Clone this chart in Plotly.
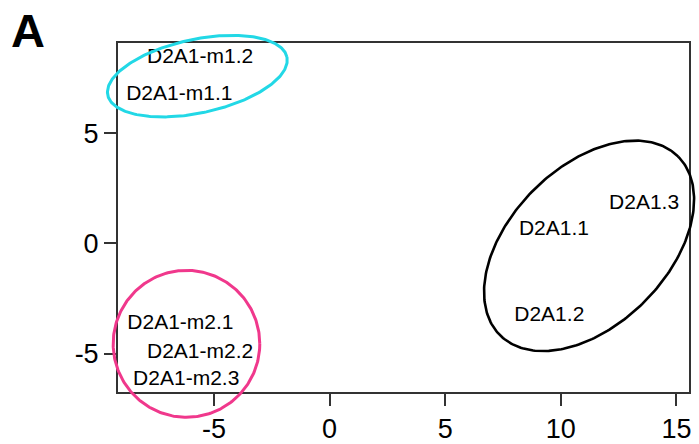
import numpy as np
import plotly.graph_objects as go

# ---- data ----
labels = ["D2A1-m1.1", "D2A1-m1.2", "D2A1-m2.1", "D2A1-m2.2", "D2A1-m2.3",
          "D2A1.1", "D2A1.2", "D2A1.3"]
pc1 = [-6.5, -5.6, -6.45, -5.6, -6.2, 9.7, 9.5, 13.6]
pc2 = [6.75, 8.45, -3.65, -4.95, -6.2, 0.6, -3.3, 1.8]

x_ticks = [-5, 0, 5, 10, 15]
y_ticks = [-5, 0, 5]

# group ellipses: centre (data), semi-axes (x-units), angle (deg), colour
ell_cx = [-5.72, -6.19, 11.22]
ell_cy = [7.6, -4.56, -0.11]
ell_a = [3.96, 3.17, 5.45]
ell_b = [1.59, 3.17, 3.4]
ell_ang = [12, 0, 45]
ell_col = ["#22D8E6", "#F0388C", "#000000"]
ell_w = [3, 3, 2.6]

# ---- layout geometry ----
W, H = 699, 444
xr = [-9.16, 15.53]
yr = [-6.74, 9.11]
xd = [118.3 / W, 691.7 / W]
yd = [(H - 392.7) / H, (H - 43) / H]

plot_w = (xd[1] - xd[0]) * W
plot_h = (yd[1] - yd[0]) * H
sx = plot_w / (xr[1] - xr[0])
sy = plot_h / (yr[1] - yr[0])


def ext(r, d):
    span = (r[1] - r[0]) / (d[1] - d[0])
    return [r[0] - d[0] * span, r[1] + (1 - d[1]) * span]


xr2 = ext(xr, xd)
yr2 = ext(yr, yd)

fig = go.Figure()

t = np.linspace(0, 2 * np.pi, 300)
for cx, cy, a, b, ang, col, w in zip(ell_cx, ell_cy, ell_a, ell_b, ell_ang, ell_col, ell_w):
    th = np.deg2rad(ang)
    ap, bp = a * sx, b * sx  # pixels
    dxp = ap * np.cos(t) * np.cos(th) - bp * np.sin(t) * np.sin(th)
    dyp = ap * np.cos(t) * np.sin(th) + bp * np.sin(t) * np.cos(th)
    fig.add_trace(go.Scatter(x=cx + dxp / sx, y=cy + dyp / sy, mode="lines",
                             line=dict(color=col, width=w),
                             xaxis="x2", yaxis="y2", hoverinfo="skip",
                             showlegend=False))

fig.add_trace(go.Scatter(x=pc1, y=pc2, mode="text", text=labels,
                         textposition="middle center",
                         textfont=dict(family="Liberation Sans, Arial", size=21, color="black"),
                         cliponaxis=False, showlegend=False))

axis_common = dict(showgrid=False, zeroline=False, showline=True, linecolor="#333333",
                   linewidth=1.5, mirror=True, ticks="outside", ticklen=12,
                   tickwidth=1.5, tickcolor="#333333",
                   tickfont=dict(family="Liberation Sans, Arial", size=27, color="black"))

fig.update_layout(
    width=W, height=H,
    margin=dict(l=0, r=0, t=0, b=0),
    paper_bgcolor="white", plot_bgcolor="rgba(0,0,0,0)",
    xaxis=dict(range=xr, domain=xd, anchor="y", tickvals=x_ticks,
               ticktext=[str(v) for v in x_ticks], **axis_common),
    yaxis=dict(range=yr, domain=yd, anchor="x", tickvals=y_ticks,
               ticktext=[str(v) for v in y_ticks], **axis_common),
    xaxis2=dict(range=xr2, domain=[0, 1], anchor="y2", visible=False),
    yaxis2=dict(range=yr2, domain=[0, 1], anchor="x2", visible=False),
    annotations=[dict(text="<b>A</b>", xref="paper", yref="paper",
                      x=9 / W, y=1 - 31 / H,
                      xanchor="left", yanchor="middle", showarrow=False,
                      font=dict(family="Liberation Sans, Arial", size=47, color="black"))],
)

fig.write_html("out.html")
